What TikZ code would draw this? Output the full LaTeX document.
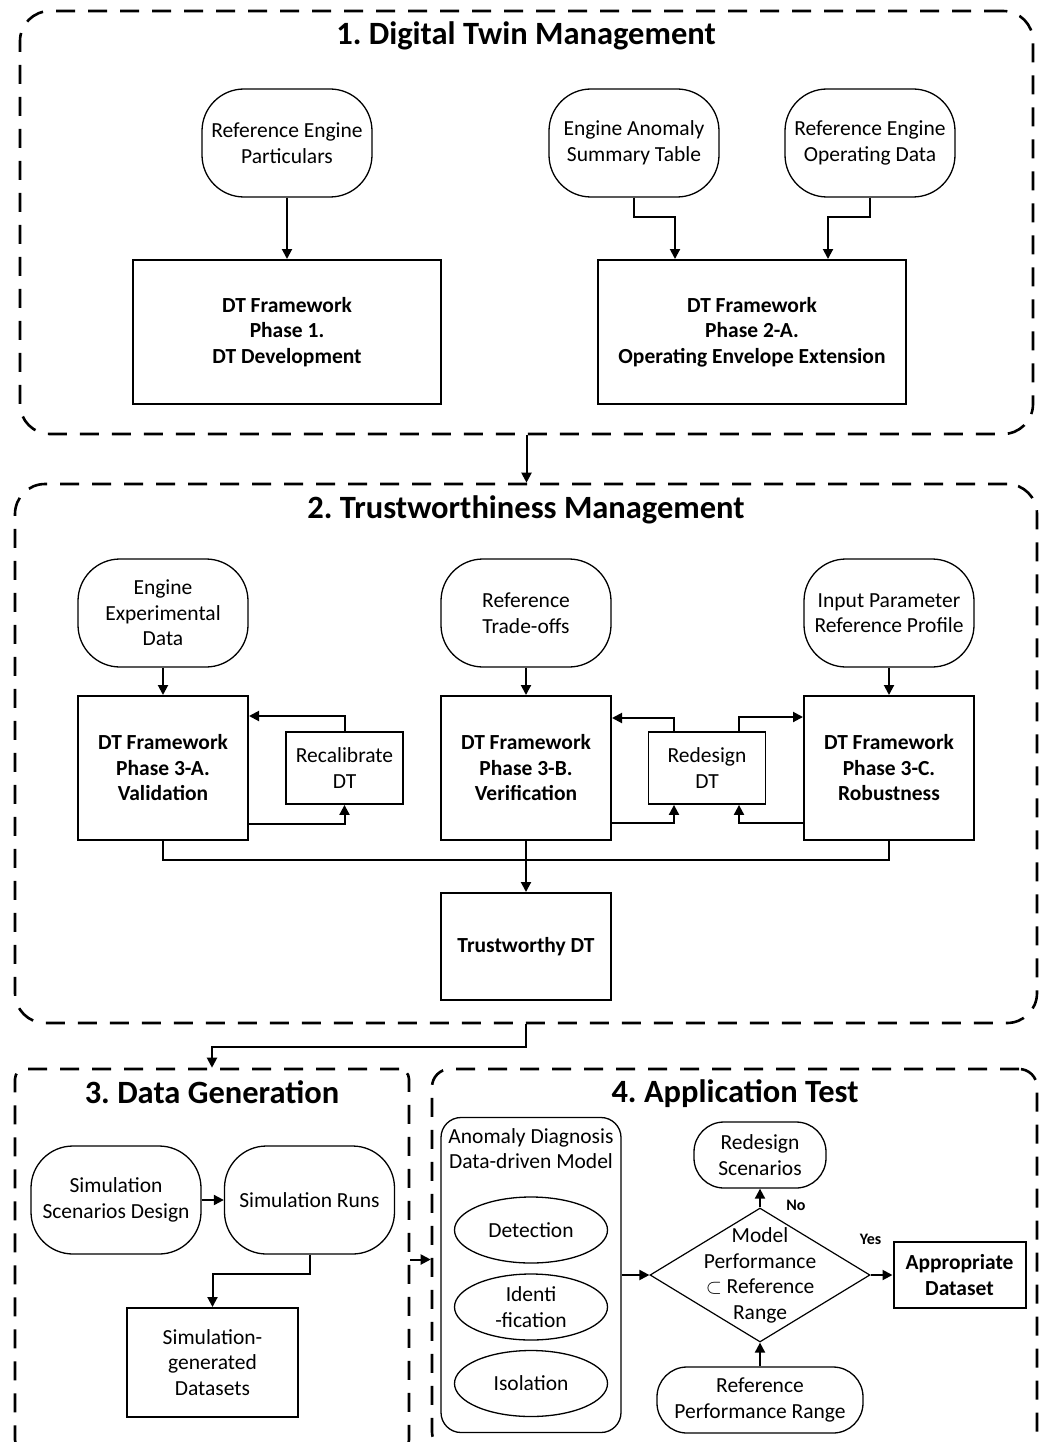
\documentclass[tikz,border=0pt]{standalone}
\usepackage{fontspec}
\setmainfont{Carlito}
\usepackage{tikz}
\usetikzlibrary{positioning}
\usetikzlibrary{arrows.meta}
\usetikzlibrary{shapes.geometric}
\frenchspacing

\tikzset{
  grp/.style={draw, line width=2.6pt, dash pattern=on 19pt off 13pt, rounded corners=30pt},
  ttl/.style={font=\fontsize{32.5}{36}\selectfont\bfseries, anchor=base},
  txt/.style={align=center, font=\fontsize{21.5}{25.5}\selectfont},
  term/.style={txt, draw, line width=1.3pt, rounded corners=42pt, minimum width=170pt, minimum height=108pt},
  box/.style={txt, draw, line width=2pt, minimum width=170pt, minimum height=144pt},
  phase/.style={box, font=\fontsize{21.5}{25.5}\selectfont\bfseries},
  fixbox/.style={txt, draw, line width=1.8pt, minimum width=117pt, minimum height=72pt},
  oval/.style={txt, draw, ellipse, line width=1.3pt, minimum width=153pt, minimum height=66pt, inner sep=0pt},
  dia/.style={draw, diamond, line width=1.2pt, minimum width=220pt, minimum height=134pt, inner sep=0pt},
  lab/.style={font=\fontsize{16}{18}\selectfont\bfseries},
  conn/.style={line width=2pt, ->}
}

\begin{document}
\begin{tikzpicture}[x=1pt, y=-1pt, >={Triangle[length=10pt,width=10pt]}]
\useasboundingbox (0,0) rectangle (1046,1442);
\clip (0,0) rectangle (1046,1442);

% 1. Digital Twin Management
\node[grp, minimum width=1013pt, minimum height=423pt] (g1) at (526.5,222.5) {};
\node[ttl] (t1) at (526,45) {1. Digital Twin Management};
\node[term] (rep) at (287,143) {Reference Engine\\Particulars};
\node[term] (east) at (634,143) {Engine Anomaly\\Summary Table};
\node[term] (reod) at (870,143) {Reference Engine\\Operating Data};
\node[phase, minimum width=308pt] (ph1) at (287,332) {DT Framework\\Phase 1.\\DT Development};
\node[phase, minimum width=308pt] (ph2) at (752,332) {DT Framework\\Phase 2-A.\\Operating Envelope Extension};
\draw[conn] (rep) -- (ph1);
\draw[conn] (east.south) -- ++(0,19) -| ([xshift=-77pt]ph2.north);
\draw[conn] (reod.south) -- ++(0,19) -| ([xshift=76pt]ph2.north);

% 2. Trustworthiness Management
\node[grp, minimum width=1022pt, minimum height=539pt] (g2) at (526,753.5) {};
\node[ttl] (t2) at (526,518) {2. Trustworthiness Management};
\draw[conn] (g1.south) -- (g1.south |- g2.north);
\node[term] (eed) at (163,613) {Engine\\Experimental\\Data};
\node[term] (rto) at (526,613) {Reference\\Trade-offs};
\node[term] (iprp) at (889,613) {Input Parameter\\Reference Profile};
\node[phase] (p3a) at (163,768) {DT Framework\\Phase 3-A.\\Validation};
\node[phase] (p3b) at (526,768) {DT Framework\\Phase 3-B.\\Verification};
\node[phase] (p3c) at (889,768) {DT Framework\\Phase 3-C.\\Robustness};
\node[fixbox] (recal) at (344.5,768) {Recalibrate\\DT};
\node[fixbox] (redt) at (707,768) {Redesign\\DT};
\node[phase, minimum height=107pt] (tdt) at (526,946.5) {Trustworthy DT};
\draw[conn] (eed) -- (p3a);
\draw[conn] (rto) -- (p3b);
\draw[conn] (iprp) -- (p3c);
\draw[conn] (recal.north) |- ([yshift=52pt]p3a.east);
\draw[conn] ([yshift=-56pt]p3a.east) -| (recal.south);
\draw[conn] ([xshift=-33pt]redt.north) |- ([yshift=50pt]p3b.east);
\draw[conn] ([xshift=32pt]redt.north) |- ([yshift=51pt]p3c.west);
\draw[conn] ([yshift=-55pt]p3b.east) -| ([xshift=-33pt]redt.south);
\draw[conn] ([yshift=-55pt]p3c.west) -| ([xshift=32pt]redt.south);
\draw[line width=2pt] (p3a.south) -- ++(0,19) -| (p3c.south);
\draw[conn] (p3b) -- (tdt);

% 3. Data Generation
\node[grp, rounded corners=10pt, minimum width=394pt, minimum height=381pt] (g3) at (212,1259.5) {};
\node[ttl] (t3) at (212,1103) {3. Data Generation};
\draw[conn] (g2.south) -- ++(0,23) -| (g3.north);
\node[term] (ssd) at (116,1200) {Simulation\\Scenarios Design};
\node[term] (sr) at (309.5,1200) {Simulation Runs};
\node[box, minimum width=171pt, minimum height=109pt] (sgd) at (212.5,1362.5) {Simulation-\\generated\\Datasets};
\draw[conn] (ssd) -- (sr);
\draw[conn] (sr.south) -- ++(0,19) -| (sgd.north);

% 4. Application Test
\node[grp, rounded corners=18pt, minimum width=605pt, minimum height=381pt] (g4) at (734.5,1259.5) {};
\node[ttl] (t4) at (735,1102) {4. Application Test};
\draw[conn] (g3) -- (g4);
\node[draw, line width=1.3pt, rounded corners=20pt, minimum width=180pt, minimum height=315pt] (adm) at (531,1275) {};
\node[txt] (admt) at (531,1148.5) {Anomaly Diagnosis\\Data-driven Model};
\node[oval] (det) at (531,1230) {Detection};
\node[oval] (idf) at (531,1307) {Identi\\-fication};
\node[oval] (iso) at (531,1383.5) {Isolation};
\node[dia] (dec) at (760,1275) {};
\node[txt] (dect) at (760,1275.5) {Model\\Performance\\$\subset$ Reference\\Range};
\node[term, minimum width=132pt, minimum height=66pt, rounded corners=30pt] (resc) at (760,1155) {Redesign\\Scenarios};
\node[phase, minimum width=132pt, minimum height=66pt] (apd) at (959.5,1275) {Appropriate\\Dataset};
\node[term, minimum width=206pt, minimum height=66pt, rounded corners=30pt] (rpr) at (760,1400) {Reference\\Performance Range};
\draw[conn] (adm) -- (dec);
\draw[conn] (dec.north) -- (resc.south) node[lab, pos=0.1, right=22pt] {No};
\draw[conn] (dec.east) -- (apd.west) node[lab, pos=0, above=26pt] {Yes};
\draw[conn] (rpr) -- (dec);
\end{tikzpicture}
\end{document}
